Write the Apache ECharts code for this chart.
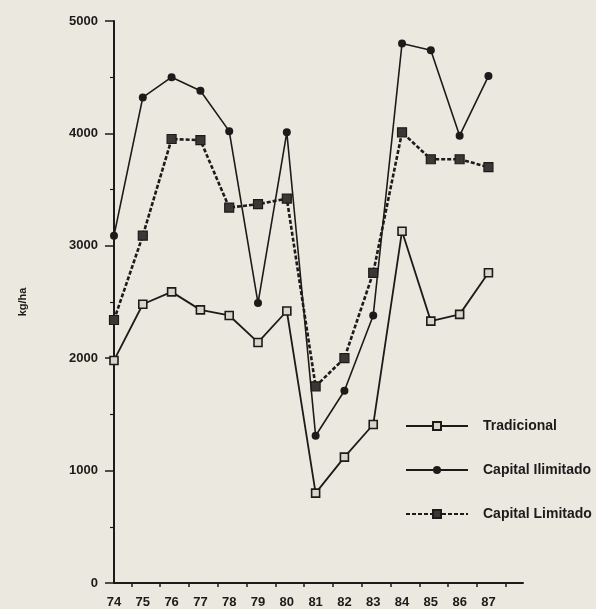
<!DOCTYPE html>
<html>
<head>
<meta charset="utf-8">
<script src="https://cdn.jsdelivr.net/npm/echarts@6/dist/echarts.min.js"></script>
<style>
  html, body { margin: 0; padding: 0; background: #ebe8df; }
  #main { width: 596px; height: 609px; }
</style>
</head>
<body>
<div id="main"></div>
<script>
// años (eje x)
var years = [74, 75, 76, 77, 78, 79, 80, 81, 82, 83, 84, 85, 86, 87];
// rendimientos kg/ha
var tradicional = [1980, 2480, 2590, 2430, 2380, 2140, 2420, 800, 1120, 1410, 3130, 2330, 2390, 2760];
var capitalIlimitado = [3090, 4320, 4500, 4380, 4020, 2490, 4010, 1310, 1710, 2380, 4800, 4740, 3980, 4510];
var capitalLimitado = [2340, 3090, 3950, 3940, 3340, 3370, 3420, 1750, 2000, 2760, 4010, 3770, 3770, 3700];
var yTicks = [0, 1000, 2000, 3000, 4000, 5000];

var ink = "#1c1b1a";
var font = "Liberation Sans, Arial, sans-serif";

function pairs(vals) {
  return years.map(function (y, i) { return [y, vals[i]]; });
}

var chart = echarts.init(document.getElementById("main"));

var option = {
  backgroundColor: "#ebe8df",
  animation: false,
  grid: { left: 114, right: 73, top: 21, bottom: 24, containLabel: false },
  legend: {
    orient: "vertical",
    left: 400,
    top: 414,
    itemWidth: 62,
    itemHeight: 10,
    itemGap: 30,
    textStyle: { color: ink, fontSize: 14, fontWeight: "bold", fontFamily: font, padding: [0, 0, 0, 10] },
    data: ["Tradicional", "Capital Ilimitado", "Capital Limitado"]
  },
  xAxis: {
    type: "value",
    min: 74,
    max: 88.2,
    axisLine: { show: true, lineStyle: { color: ink, width: 2 } },
    axisTick: {
      show: true,
      length: 4,
      lineStyle: { color: ink, width: 1.5 },
      customValues: years.map(function (y) { return y + 0.6; })
    },
    axisLabel: {
      color: ink,
      fontSize: 13,
      fontWeight: "bold",
      fontFamily: font,
      margin: 13,
      customValues: years
    },
    splitLine: { show: false }
  },
  yAxis: {
    type: "value",
    min: 0,
    max: 5000,
    interval: 1000,
    name: "kg/ha",
    nameLocation: "middle",
    nameRotate: 90,
    nameGap: 86,
    nameTextStyle: { color: ink, fontSize: 11, fontWeight: "bold", fontFamily: font },
    axisLine: { show: true, lineStyle: { color: ink, width: 2 } },
    axisTick: { show: true, length: 9, lineStyle: { color: ink, width: 1.5 } },
    minorTick: { show: true, splitNumber: 2, length: 4, lineStyle: { color: ink, width: 1.2 } },
    axisLabel: {
      color: ink,
      fontSize: 13,
      fontWeight: "bold",
      fontFamily: font,
      margin: 16,
      customValues: yTicks,
      formatter: function (v) { return String(v); }
    },
    splitLine: { show: false }
  },
  series: [
    {
      name: "Tradicional",
      type: "line",
      data: pairs(tradicional),
      symbol: "rect",
      symbolSize: 8,
      itemStyle: { color: "#d9d5ca", borderColor: ink, borderWidth: 1.6 },
      lineStyle: { color: ink, width: 1.8, type: "solid" }
    },
    {
      name: "Capital Ilimitado",
      type: "line",
      data: pairs(capitalIlimitado),
      symbol: "circle",
      symbolSize: 8,
      itemStyle: { color: ink, borderColor: ink, borderWidth: 0 },
      lineStyle: { color: ink, width: 1.6, type: "solid" }
    },
    {
      name: "Capital Limitado",
      type: "line",
      data: pairs(capitalLimitado),
      symbol: "rect",
      symbolSize: 9,
      itemStyle: { color: "#3a3835", borderColor: ink, borderWidth: 1.2 },
      lineStyle: { color: ink, width: 2.6, type: [4, 2] }
    }
  ]
};

chart.setOption(option);
</script>
</body>
</html>
